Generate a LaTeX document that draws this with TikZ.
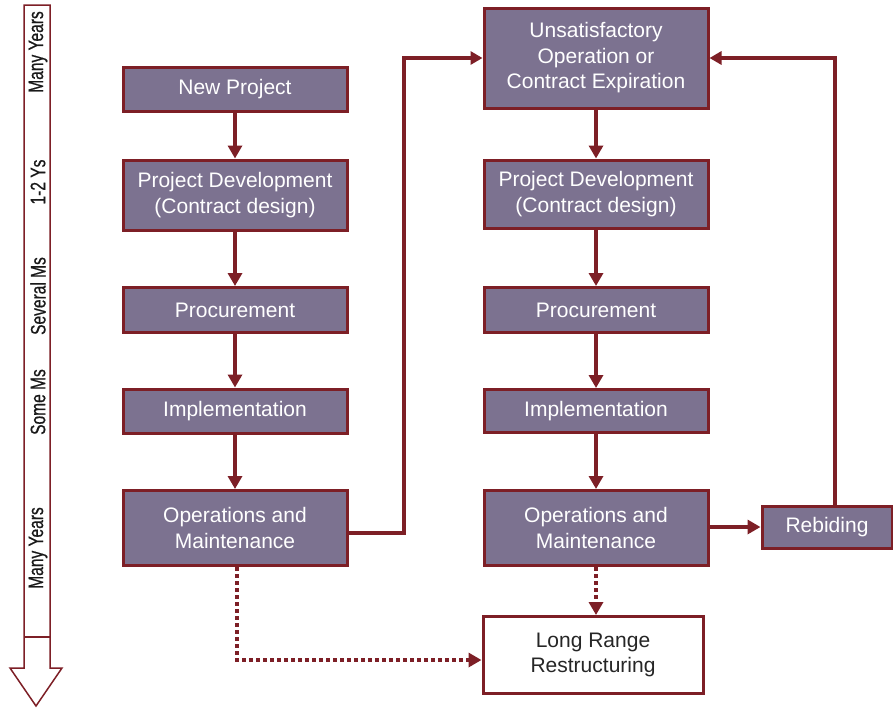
\documentclass[tikz,border=0pt]{standalone}
\usepackage{fontspec}
\setmainfont{Liberation Sans}
\newfontfamily\narrowsans[FakeStretch=0.74,FakeBold=0.6]{Liberation Sans}
\usetikzlibrary{arrows.meta}
\definecolor{boxfill}{HTML}{7C7290}
\definecolor{boxline}{HTML}{7D1F26}
\tikzset{
  stage/.style={draw=boxline, line width=3pt, fill=boxfill, text=white,
    minimum width=224pt, align=center, inner sep=0pt,
    font=\fontsize{21}{25.5}\selectfont},
  plainbox/.style={stage, fill=white, text=black!85},
  flow/.style={draw=boxline, line width=4pt,
    -{Triangle[length=13pt,width=14pt]}},
  dotflow/.style={flow, dash pattern=on 4pt off 3pt},
  loopflow/.style={draw=boxline, line width=3.5pt,
    -{Triangle[length=12pt,width=13pt]}},
  phase/.style={rotate=90, font=\narrowsans\fontsize{21}{23}\selectfont, text=black!90}
}
\begin{document}
\begin{tikzpicture}[x=1pt, y=-1pt]
\useasboundingbox (0,0) rectangle (893,710);

% time axis on the left
\draw[draw=boxline, line width=1.5pt, fill=white]
  (24,5) -- (50,5) -- (50,668) -- (62,668) -- (36,706) -- (10,668) -- (24,668) -- cycle;
\draw[draw=boxline, line width=1.5pt] (24,637) -- (50,637);
\node[phase] (t1) at (38,52)  {Many Years};
\node[phase] (t2) at (38,182) {1-2 Ys};
\node[phase] (t3) at (38,296) {Several Ms};
\node[phase] (t4) at (38,402) {Some Ms};
\node[phase] (t5) at (38,548) {Many Years};

% first contract cycle
\node[stage, minimum height=44pt] (np)  at (235,89)  {New Project};
\node[stage, minimum height=70pt] (pd1) at (235,195) {Project Development\\(Contract design)};
\node[stage, minimum height=45pt] (pr1) at (235,310) {Procurement};
\node[stage, minimum height=44pt] (im1) at (235,411) {Implementation};
\node[stage, minimum height=75pt] (om1) at (235,528) {Operations and\\Maintenance};

% following contract cycle
\node[stage, minimum height=100pt] (un) at (596,58) {Unsatisfactory\\Operation or\\Contract Expiration};
\node[stage, minimum height=68pt] (pd2) at (596,194) {Project Development\\(Contract design)};
\node[stage, minimum height=45pt] (pr2) at (596,310) {Procurement};
\node[stage, minimum height=43pt] (im2) at (596,411) {Implementation};
\node[stage, minimum height=75pt] (om2) at (596,528) {Operations and\\Maintenance};
\node[stage, minimum width=130pt, minimum height=42pt] (rb) at (827,527) {Rebiding};
\node[plainbox, minimum width=220pt, minimum height=77pt] (lr) at (593,655) {Long Range\\Restructuring};

% vertical flows
\draw[flow] (np) -- (pd1);
\draw[flow] (pd1) -- (pr1);
\draw[flow] (pr1) -- (im1);
\draw[flow] (im1) -- (om1);
\draw[flow] (un) -- (pd2);
\draw[flow] (pd2) -- (pr2);
\draw[flow] (pr2) -- (im2);
\draw[flow] (im2) -- (om2);
\draw[flow] (om2.east |- rb.west) -- (rb.west);

% loops back to the top of the second cycle
\coordinate (c1) at (404,533);
\draw[loopflow] (om1.east |- c1) -- (c1) |- (un.west);
\coordinate (c2) at (835,58);
\draw[loopflow] (rb.north -| c2) -- (c2) -- (un.east);

% restructuring paths
\coordinate (c3) at (237,660);
\draw[dotflow] (om1.south -| c3) -- (c3) -- (c3 -| lr.west);
\draw[dotflow] (om2.south) -- (om2.south |- lr.north);
\end{tikzpicture}
\end{document}
